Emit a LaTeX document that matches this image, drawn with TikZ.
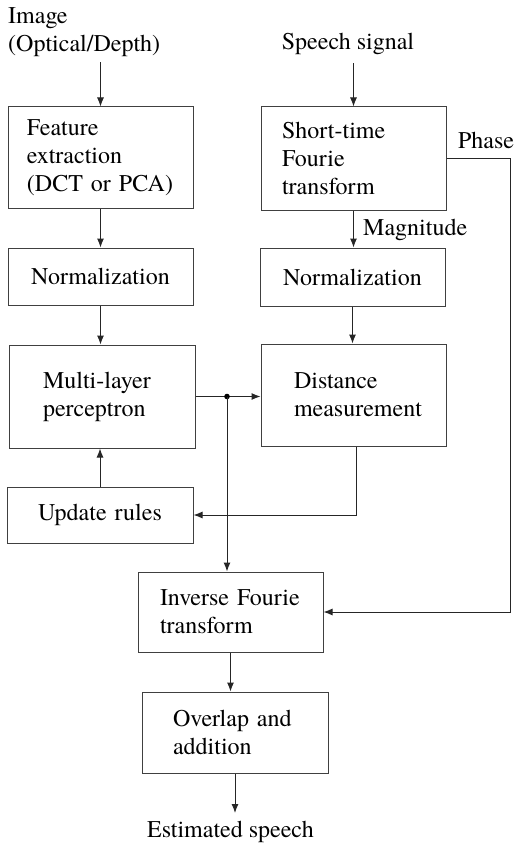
\documentclass[tikz,border=0pt]{standalone}
\usepackage{fontspec}
\IfFontExistsTF{texgyretermes-regular.otf}
  {\setmainfont{texgyretermes}[Extension=.otf, UprightFont=*-regular,
     BoldFont=*-bold, ItalicFont=*-italic, BoldItalicFont=*-bolditalic]}
  {}
\usepackage{tikz}
\usetikzlibrary{arrows.meta}
\newcommand{\fs}{\rmfamily\fontsize{24}{28}\selectfont}
\tikzset{
  blok/.style={rectangle, draw=black!75, line width=1pt, minimum height=#1,
               align=left, font=\fs, inner ysep=2pt},
  cblok/.style={blok=#1, align=center},
  lbl/.style={font=\fs, inner sep=0pt},
  arr/.style={-{Latex[length=9pt,width=7pt]}, line width=1pt, draw=black!85},
}

\begin{document}
\begin{tikzpicture}[x=1pt, y=-1pt]
    \useasboundingbox (0,0) rectangle (515,848);
    % inputs
    \node[lbl, align=left, anchor=north west, inner ysep=6pt] (img) at (8,1)
      {Image\\(Optical/Depth)};
    \node[lbl, inner ysep=8pt] (spch) at (348,44) {Speech signal};
    % left column
    \node[blok=101pt, text width=147pt, inner xsep=19pt] (feat) at (100.5,157.5)
      {Feature\\extraction\\(DCT or PCA)};
    \node[cblok=57pt, text width=151pt, inner xsep=17pt] (norml) at (100.5,276.5)
      {Normalization};
    \node[blok=103pt, text width=118pt, inner xsep=34pt] (mlp) at (102,396.5)
      {Multi-layer\\perceptron};
    \node[cblok=56pt, text width=152pt, inner xsep=17pt] (upd) at (100,515)
      {Update rules};
    % right column
    \node[blok=103pt, text width=143pt, inner xsep=21pt] (stft) at (353.5,158.5)
      {Short-time\\Fourie\\transform};
    \node[cblok=58pt, text width=151pt, inner xsep=17pt] (normr) at (352.5,277)
      {Normalization};
    \node[blok=102pt, text width=119pt, inner xsep=33pt] (dist) at (353.5,395)
      {Distance\\measurement};
    % output part
    \node[blok=80pt, text width=141pt, inner xsep=22pt] (ift) at (230.5,612)
      {Inverse Fourie\\transform};
    \node[blok=81pt, text width=124pt, inner xsep=31pt] (ovl) at (235,732.5)
      {Overlap and\\addition};
    \node[lbl, inner ysep=8pt] (est) at (230.5,832) {Estimated speech};
    \node[lbl] (phs) at (486,140) {Phase};
    \node[lbl, anchor=west] (mag) at (363,230) {Magnitude};
    \coordinate (ph) at (510,0);
    \coordinate (jn) at (227,0);

    \draw[arr] (img.south -| feat.north) -- (feat.north);
    \draw[arr] (feat.south) -- (feat.south |- norml.north);
    \draw[arr] (norml.south) -- (norml.south |- mlp.north);
    \draw[arr] (upd.north) -- (upd.north |- mlp.south);
    \draw[arr] (spch.south -| stft.north) -- (stft.north);
    \draw[arr] (stft.south) -- (stft.south |- normr.north);
    \draw[arr] (normr.south) -- (normr.south |- dist.north);
    \draw[arr] (mlp.east) -- (mlp.east -| dist.west);
    \fill (mlp.east -| jn) circle (2.8pt);
    \draw[arr] (mlp.east -| jn) -- (jn |- ift.north);
    \draw[arr] ([xshift=2.5pt]dist.south) |- (upd.east);
    \draw[arr] (stft.east) -- (stft.east -| ph) |- (ift.east);
    \draw[arr] (ift.south) -- (ift.south |- ovl.north);
    \draw[arr] (ovl.south) -- (ovl.south |- est.north);
  \end{tikzpicture}
\end{document}
